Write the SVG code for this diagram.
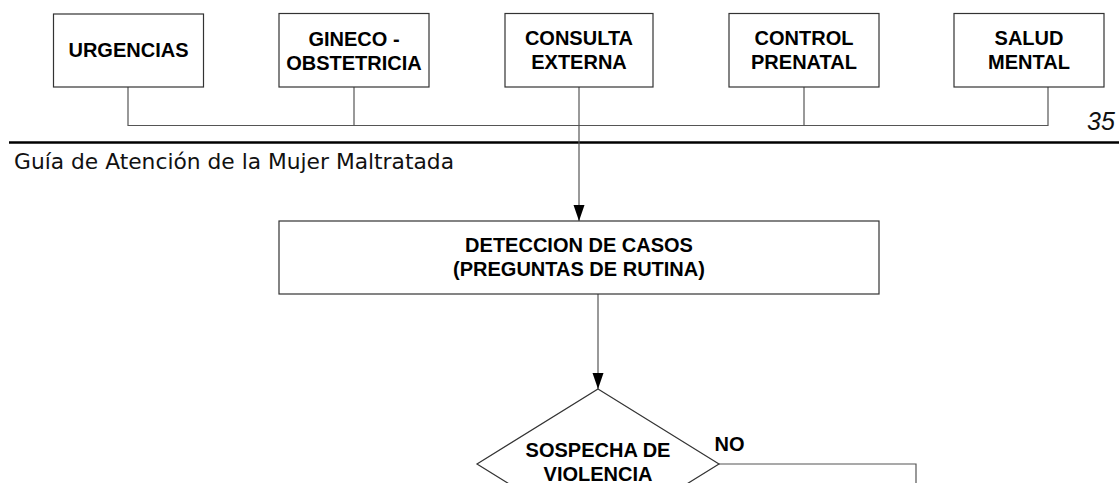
<svg xmlns="http://www.w3.org/2000/svg" width="1119" height="483" viewBox="0 0 1119 483">
<style>
.box{fill:#fff;stroke:#333;stroke-width:1.2}
.lbl{font-family:"Liberation Sans",Arial,sans-serif;font-weight:bold;font-size:20px;fill:#000;text-anchor:middle}
.con{fill:none;stroke:#555;stroke-width:1.2}
.page{fill:#111}
</style>
<defs>
<marker id="arr" markerUnits="userSpaceOnUse" markerWidth="17" markerHeight="12" refX="16" refY="5.5" orient="auto">
<path d="M0,0 L16,5.5 L0,11 Z" fill="#000"/>
</marker>
</defs>
<rect width="1119" height="483" fill="#fff"/>
<g id="page-header">
<line x1="9" y1="142.5" x2="1119" y2="142.5" stroke="#000" stroke-width="2.5"/>
<text class="page" x="1087" y="130" font-family="Liberation Sans, Arial, sans-serif" font-size="25" font-style="italic">35</text>
<text class="page" x="14" y="169" font-family="DejaVu Sans, sans-serif" font-size="21.5" textLength="440" lengthAdjust="spacingAndGlyphs">Guía de Atención de la Mujer Maltratada</text>
</g>
<g id="connectors">
<polyline class="con" points="128,87 128,125.5 1048,125.5 1048,87"/>
<line class="con" x1="354" y1="87" x2="354" y2="125.5"/>
<line class="con" x1="804" y1="87" x2="804" y2="125.5"/>
<line class="con" x1="579" y1="87" x2="579" y2="221" marker-end="url(#arr)"/>
<line class="con" x1="598" y1="294" x2="598" y2="389" marker-end="url(#arr)"/>
<polyline class="con" points="719,464 916,464 916,483"/>
<text class="lbl" x="729.5" y="451">NO</text>
</g>
<g id="urgencias">
<rect class="box" x="53.5" y="14" width="150" height="73"/>
<text class="lbl" x="128.5" y="57">URGENCIAS</text>
</g>
<g id="gineco">
<rect class="box" x="279" y="13.5" width="150" height="73.5"/>
<text class="lbl" x="354" y="46">GINECO -</text>
<text class="lbl" x="354" y="70">OBSTETRICIA</text>
</g>
<g id="consulta">
<rect class="box" x="505" y="13.5" width="148" height="73.5"/>
<text class="lbl" x="579" y="45">CONSULTA</text>
<text class="lbl" x="579" y="69">EXTERNA</text>
</g>
<g id="control">
<rect class="box" x="729" y="13.5" width="150" height="73.5"/>
<text class="lbl" x="804" y="45">CONTROL</text>
<text class="lbl" x="804" y="69">PRENATAL</text>
</g>
<g id="salud">
<rect class="box" x="954" y="13.5" width="150" height="73.5"/>
<text class="lbl" x="1029" y="45">SALUD</text>
<text class="lbl" x="1029" y="69">MENTAL</text>
</g>
<g id="deteccion">
<rect class="box" x="279" y="221" width="600" height="73"/>
<text class="lbl" x="579" y="252">DETECCION DE CASOS</text>
<text class="lbl" x="579" y="276">(PREGUNTAS DE RUTINA)</text>
</g>
<g id="sospecha">
<polygon class="box" points="598,389 719,464 598,539 477,464"/>
<text class="lbl" x="598" y="457">SOSPECHA DE</text>
<text class="lbl" x="598" y="481">VIOLENCIA</text>
</g>
</svg>
